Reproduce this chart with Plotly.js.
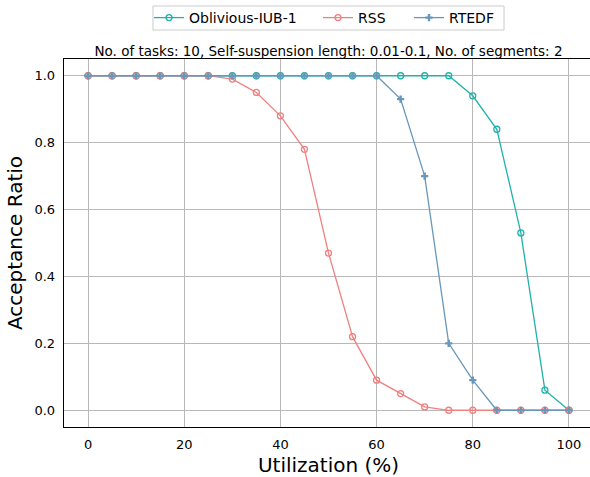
<!DOCTYPE html>
<html>
<head>
<meta charset="utf-8">
<script src="https://cdn.plot.ly/plotly-3.0.1.min.js"></script>
<style>
html,body{margin:0;padding:0;width:590px;height:477px;overflow:hidden;background:#fff;}
#chart{width:594px;height:477px;}
</style>
</head>
<body>
<div id="chart"></div>
<script>
const utilization = [0,5,10,15,20,25,30,35,40,45,50,55,60,65,70,75,80,85,90,95,100];
const obliviousIUB1 = [1,1,1,1,1,1,1,1,1,1,1,1,1,1,1,1,0.94,0.84,0.53,0.06,0];
const rss = [1,1,1,1,1,1,0.99,0.95,0.88,0.78,0.47,0.22,0.09,0.05,0.01,0,0,0,0,0,0];
const rtedf = [1,1,1,1,1,1,1,1,1,1,1,1,1,0.93,0.70,0.20,0.09,0,0,0,0];
const seriesNames = ["Oblivious-IUB-1","RSS","RTEDF"];
const xTicks = [0,20,40,60,80,100];
const yTicks = [0,0.2,0.4,0.6,0.8,1.0];
const yTickText = ["0.0","0.2","0.4","0.6","0.8","1.0"];

const font = "DejaVu Sans, sans-serif";
const traces = [
  {x: utilization, y: obliviousIUB1, name: seriesNames[0], mode: "lines+markers", legend: "legend",
   line: {color: "#20b2aa", width: 1.3},
   marker: {symbol: "circle-open", size: 6, color: "#20b2aa", line: {width: 1.3}}},
  {x: utilization, y: rss, name: seriesNames[1], mode: "lines+markers", legend: "legend2",
   line: {color: "#f08080", width: 1.3},
   marker: {symbol: "circle-open", size: 6, color: "#f08080", line: {width: 1.3}}},
  {x: utilization, y: rtedf, name: seriesNames[2], mode: "lines+markers", legend: "legend3",
   line: {color: "#6897bb", width: 1.3},
   marker: {symbol: "cross", size: 6, color: "#6897bb", line: {width: 0}}}
];
function leg(x) {
  return {orientation: "h", x: x, xanchor: "left", y: 1.1114, yanchor: "middle",
    borderwidth: 0, bgcolor: "rgba(0,0,0,0)", font: {size: 14, family: font}};
}
const layout = {
  width: 594, height: 477,
  margin: {l: 64, r: 1, t: 59, b: 50},
  paper_bgcolor: "#fff", plot_bgcolor: "#fff",
  font: {family: font, size: 13, color: "#000"},
  showlegend: true,
  legend: leg(0.1607),
  legend2: leg(0.4802),
  legend3: leg(0.6522),
  shapes: [{type: "rect", xref: "paper", yref: "paper", x0: 0.1682, x1: 0.8318, y0: 1.0788, y1: 1.144,
    line: {color: "#cccccc", width: 1}, fillcolor: "rgba(0,0,0,0)", layer: "below"}],
  title: {text: "No. of tasks: 10, Self-suspension length: 0.01-0.1, No. of segments: 2",
    x: 0.5, xref: "paper", xanchor: "center", y: 1, yref: "paper", yanchor: "bottom",
    pad: {b: 3}, font: {size: 13.5, family: font, color: "#000"}},
  xaxis: {range: [-5, 105], tickvals: xTicks, ticktext: xTicks.map(String),
    showgrid: true, gridcolor: "#b8b8b8", gridwidth: 1, zeroline: false,
    showline: true, linecolor: "#000", linewidth: 1.3, mirror: true,
    ticks: "outside", ticklen: 5, tickcolor: "rgba(0,0,0,0)",
    tickfont: {size: 13, family: font},
    title: {text: "Utilization (%)", font: {size: 20, family: font}, standoff: 7}},
  yaxis: {range: [-0.05, 1.05], tickvals: yTicks, ticktext: yTickText,
    showgrid: true, gridcolor: "#b8b8b8", gridwidth: 1, zeroline: false,
    showline: true, linecolor: "#000", linewidth: 1.3, mirror: true,
    ticks: "outside", ticklen: 5, tickcolor: "rgba(0,0,0,0)",
    tickfont: {size: 13, family: font},
    title: {text: "Acceptance Ratio", font: {size: 20, family: font}, standoff: 6}}
};
Plotly.newPlot("chart", traces, layout, {displayModeBar: false, staticPlot: true});
</script>
</body>
</html>
